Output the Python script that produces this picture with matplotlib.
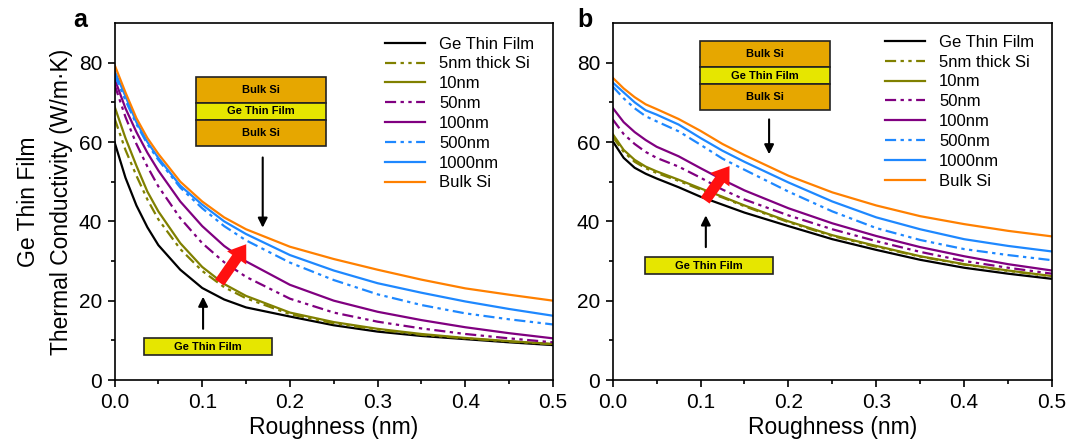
import matplotlib
matplotlib.use("Agg")
import matplotlib.pyplot as plt
from matplotlib.patches import Rectangle

plt.rcParams['font.family'] = ['Liberation Sans', 'DejaVu Sans']

roughness = [0, 0.0125, 0.025, 0.0375, 0.05, 0.075, 0.1, 0.125, 0.15, 0.2, 0.25, 0.3, 0.35, 0.4, 0.45, 0.5]

labels = ["Ge Thin Film", "5nm thick Si", "10nm", "50nm", "100nm", "500nm", "1000nm", "Bulk Si"]

# Panel a
a_ge     = [60, 51, 44, 38.5, 34, 27.8, 23.2, 20.3, 18.3, 16.0, 13.8, 12.2, 11.1, 10.3, 9.5, 8.8]
a_5nm    = [66, 58, 51.5, 45.5, 40.5, 33, 27.5, 23.4, 20.6, 16.6, 14.3, 12.7, 11.4, 10.5, 9.7, 9.0]
a_10nm   = [69, 61, 54, 47.5, 42.5, 34.5, 28.5, 24.2, 21.2, 17.0, 14.6, 12.9, 11.6, 10.6, 9.8, 9.1]
a_50nm   = [74.5, 66.3, 59.5, 53.8, 48.8, 40.8, 34.5, 29.7, 26.0, 20.5, 17.0, 14.7, 13.0, 11.6, 10.5, 9.5]
a_100nm  = [76, 68.5, 62.5, 57.3, 52.8, 45, 38.8, 33.8, 29.9, 24.0, 20.0, 17.2, 15.1, 13.3, 11.8, 10.5]
a_500nm  = [77, 70.5, 64.5, 59.5, 55.5, 48.5, 43.3, 38.8, 35.2, 29.6, 25.2, 21.6, 18.9, 16.8, 15.3, 14.0]
a_1000nm = [78, 71.5, 65, 60, 56, 49, 44.2, 40.0, 36.8, 31.5, 27.6, 24.4, 22, 19.8, 17.9, 16.2]
a_bulk   = [79.5, 72.5, 66, 61, 57, 50, 45, 41, 38, 33.6, 30.5, 27.8, 25.3, 23.1, 21.5, 20.0]

# Panel b
b_ge     = [60.2, 56, 53.5, 52, 50.8, 48.6, 46.2, 44.2, 42.2, 38.8, 35.5, 32.8, 30.3, 28.3, 26.8, 25.5]
b_5nm    = [61.3, 57.5, 55, 53.4, 52.2, 50.2, 48, 46, 43.8, 39.8, 36.3, 33.6, 31.1, 29.1, 27.5, 26.1]
b_10nm   = [62, 58, 55.5, 53.8, 52.6, 50.5, 48.3, 46.2, 44, 40, 36.5, 33.8, 31.2, 29.2, 27.6, 26.2]
b_50nm   = [65.7, 62, 59.5, 57.5, 56, 53.8, 51, 48, 45.5, 41.5, 38, 35, 32.3, 30, 28.3, 26.8]
b_100nm  = [68.6, 65, 62.5, 60.5, 58.8, 56.4, 53.4, 50.5, 47.8, 43.3, 39.5, 36.3, 33.5, 31.2, 29.2, 27.6]
b_500nm  = [74, 71, 68.5, 66.5, 65.2, 62.7, 59.3, 55.8, 53, 47.5, 42.5, 38.3, 35.3, 33, 31.5, 30.2]
b_1000nm = [75, 72.5, 70, 68, 66.9, 64.4, 61, 57.8, 55, 49.8, 45, 41, 38, 35.5, 33.8, 32.4]
b_bulk   = [76.2, 73.5, 71.3, 69.5, 68.3, 65.8, 62.8, 59.5, 56.7, 51.5, 47.3, 44, 41.3, 39.3, 37.6, 36.2]

colors = ["#000000", "#808000", "#808000", "#800080", "#800080", "#1E88FF", "#1E88FF", "#FF8000"]
dashed = [False, True, False, True, False, True, False, False]
DDD = (5, 2, 1.5, 2, 1.5, 2)

W, H = 1071, 443
fig = plt.figure(figsize=(W / 100, H / 100), dpi=100)
ax_a = fig.add_axes([114.5 / W, 1 - 380 / H, (553 - 114.5) / W, (380 - 23) / H])
ax_b = fig.add_axes([612.7 / W, 1 - 380 / H, (1052 - 612.7) / W, (380 - 23) / H])

GOLD = "#E6A700"
YEL = "#E6E600"


def stack(ax, x0, x1, y_edges):
    names = ["Bulk Si", "Ge Thin Film", "Bulk Si"]
    cols = [GOLD, YEL, GOLD]
    for i in range(3):
        top, bot = y_edges[i], y_edges[i + 1]
        ax.add_patch(Rectangle((x0, bot), x1 - x0, top - bot, facecolor=cols[i],
                               edgecolor="#222222", lw=1.2, zorder=5))
        ax.text((x0 + x1) / 2, (top + bot) / 2, names[i], ha="center", va="center",
                fontsize=8, fontweight="bold", zorder=6)


def label_box(ax, x0, x1, y0, y1):
    ax.add_patch(Rectangle((x0, y0), x1 - x0, y1 - y0, facecolor=YEL,
                           edgecolor="#222222", lw=1.2, zorder=5))
    ax.text((x0 + x1) / 2, (y0 + y1) / 2, "Ge Thin Film", ha="center", va="center",
            fontsize=8, fontweight="bold", zorder=6)


def black_arrow(ax, x, y0, y1):
    ax.annotate("", xy=(x, y1), xytext=(x, y0),
                arrowprops=dict(arrowstyle="-|>", color="black", lw=1.5,
                                mutation_scale=14), zorder=6)


def red_arrow(ax, x0, y0, x1, y1):
    ax.annotate("", xy=(x1, y1), xytext=(x0, y0),
                arrowprops=dict(arrowstyle="simple,head_width=1.4,head_length=1.0,tail_width=0.65",
                                color="#FF1010", lw=0, mutation_scale=12), zorder=7)


panels = [
    (ax_a, [a_ge, a_5nm, a_10nm, a_50nm, a_100nm, a_500nm, a_1000nm, a_bulk], 0.617, 0.962),
    (ax_b, [b_ge, b_5nm, b_10nm, b_50nm, b_100nm, b_500nm, b_1000nm, b_bulk], 0.620, 0.967),
]

for ax, series, lx, ly in panels:
    for s, lab, c, d in zip(series, labels, colors, dashed):
        ln, = ax.plot(roughness, s, color=c, lw=1.6, label=lab)
        if d:
            ln.set_dashes(DDD)
    ax.set_xlim(0, 0.5)
    ax.set_ylim(0, 90)
    ax.set_xticks([0, 0.1, 0.2, 0.3, 0.4, 0.5])
    ax.set_xticks([0.05, 0.15, 0.25, 0.35, 0.45], minor=True)
    ax.set_yticks([0, 20, 40, 60, 80])
    ax.set_yticks([10, 30, 50, 70], minor=True)
    ax.tick_params(axis="both", which="major", direction="out", length=5, width=1.2,
                   labelsize=15, pad=4)
    ax.tick_params(axis="both", which="minor", direction="out", length=3, width=1.2)
    for sp in ax.spines.values():
        sp.set_linewidth(1.2)
    ax.set_xlabel("Roughness (nm)", fontsize=16.5, labelpad=3)
    ax.legend(loc="upper left", bbox_to_anchor=(lx, ly), frameon=False, fontsize=12,
              handlelength=2.4, handletextpad=0.85, labelspacing=0.29,
              borderpad=0, borderaxespad=0)

ax_a.set_ylabel("Ge Thin Film\nThermal Conductivity (W/m·K)", fontsize=16.5,
                linespacing=1.55, labelpad=4)

fig.text(80 / W, 1 - 20 / H, "a", fontsize=18, fontweight="bold", ha="center", va="center")
fig.text(585 / W, 1 - 20 / H, "b", fontsize=18, fontweight="bold", ha="center", va="center")

# Panel a annotations
stack(ax_a, 0.0927, 0.241, [76.4, 69.8, 65.6, 59.1])
black_arrow(ax_a, 0.169, 56.8, 37.7)
black_arrow(ax_a, 0.101, 12.2, 21.7)
label_box(ax_a, 0.0339, 0.1794, 6.3, 10.5)
red_arrow(ax_a, 0.118, 24.0, 0.152, 34.8)

# Panel b annotations
stack(ax_b, 0.0992, 0.2477, [85.4, 78.8, 74.6, 68.0])
black_arrow(ax_b, 0.178, 66.4, 56.2)
black_arrow(ax_b, 0.106, 32.8, 42.2)
label_box(ax_b, 0.0367, 0.1825, 26.8, 30.9)
red_arrow(ax_b, 0.1034, 44.7, 0.1348, 54.5)

fig.savefig("out.png", dpi=100)
